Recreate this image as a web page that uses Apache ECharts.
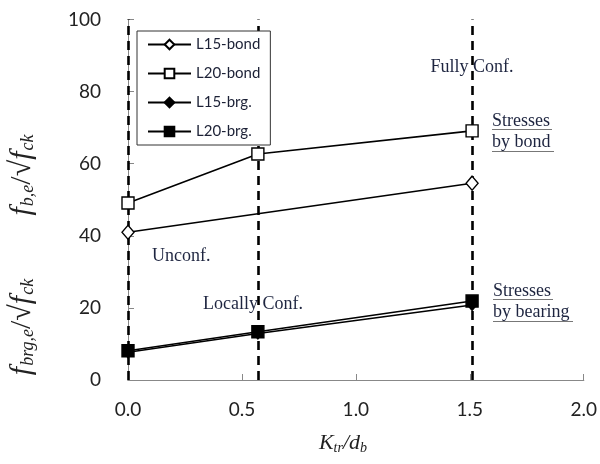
<!DOCTYPE html>
<html>
<head>
<meta charset="utf-8">
<script src="https://cdn.jsdelivr.net/npm/echarts@6/dist/echarts.min.js"></script>
<style>
  html, body { margin: 0; padding: 0; background: #fff; }
  #chart { width: 600px; height: 464px; }
</style>
</head>
<body>
<div id="chart"></div>
<script>
// Confinement levels (K_tr/d_b) where the specimens were tested
const confinement = [0, 0.57, 1.51];

// Normalised stresses by bond
const l15Bond = [[0, 41.0], [1.51, 54.6]];
const l20Bond = [[0, 49.1], [0.57, 62.7], [1.51, 69.1]];
// Normalised stresses by bearing
const l15Brg = [[0, 7.7], [0.57, 12.9], [1.51, 20.8]];
const l20Brg = [[0, 8.1], [0.57, 13.4], [1.51, 21.9]];

const xTicks = { min: 0, max: 2, interval: 0.5 };
const yTicks = { min: 0, max: 100, interval: 20 };

const sans = 'Lato, "Open Sans", sans-serif';
const serif = '"Liberation Serif", "DejaVu Serif", serif';
const ink = '#1c2136';

const chart = echarts.init(document.getElementById('chart'));

function lineSeries(name, data, symbol, size, filled) {
  return {
    name: name,
    type: 'line',
    data: data,
    symbol: symbol,
    symbolSize: size,
    showAllSymbol: true,
    z: 5,
    lineStyle: { color: '#000', width: 1.6 },
    itemStyle: {
      color: filled ? '#000' : '#fff',
      borderColor: '#000',
      borderWidth: 1.4
    },
    emphasis: { disabled: true }
  };
}

const series = [
  lineSeries('L15-bond', l15Bond, 'diamond', [12, 14], false),
  lineSeries('L20-bond', l20Bond, 'rect', 12, false),
  lineSeries('L15-brg.', l15Brg, 'diamond', [9, 11], true),
  lineSeries('L20-brg.', l20Brg, 'rect', 12, true),
  // Dashed guides at each confinement level, kept beneath the data and the legend
  {
    name: 'guides',
    type: 'line',
    data: [],
    z: 1,
    markLine: {
      z: 1,
      silent: true,
      symbol: 'none',
      label: { show: false },
      lineStyle: { color: '#000', width: 2.6, type: [9, 6] },
      data: confinement.map(v => ({ xAxis: v }))
    }
  }
];

const annoText = { fontFamily: serif, fontSize: 18, fill: '#1e2540' };
const titleRich = {
  f: { fontFamily: serif, fontStyle: 'italic', fontSize: 30 },
  n: { fontFamily: serif, fontSize: 30 },
  s: { fontFamily: serif, fontStyle: 'italic', fontSize: 18, padding: [13, 0, 0, 1] }
};

chart.setOption({
  animation: false,
  grid: { left: 128, right: 16, top: 19.5, bottom: 84, containLabel: false },
  legend: {
    orient: 'vertical',
    left: 137,
    top: 31,
    z: 20,
    padding: [6, 10, 6, 10],
    itemWidth: 43,
    itemHeight: 12,
    itemGap: 14,
    borderColor: '#333',
    borderWidth: 1,
    backgroundColor: '#fff',
    textStyle: { fontFamily: sans, fontSize: 15, color: ink },
    data: ['L15-bond', 'L20-bond', 'L15-brg.', 'L20-brg.'],
    selectedMode: false
  },
  xAxis: [{
    type: 'value',
    min: xTicks.min, max: xTicks.max, interval: xTicks.interval,
    axisLine: { show: true, lineStyle: { color: '#888', width: 1 } },
    axisTick: { show: true, inside: true, length: 6, lineStyle: { color: '#888' } },
    axisLabel: {
      fontFamily: sans, fontSize: 19, color: '#222', margin: 20,
      formatter: v => v.toFixed(1)
    },
    splitLine: { show: false }
  }, {
    type: 'value', position: 'top',
    min: xTicks.min, max: xTicks.max,
    axisLine: { show: true, lineStyle: { color: '#888', width: 1 } },
    axisTick: { show: false }, axisLabel: { show: false }, splitLine: { show: false }
  }],
  yAxis: [{
    type: 'value',
    min: yTicks.min, max: yTicks.max, interval: yTicks.interval,
    axisLine: { show: false },
    axisTick: { show: true, inside: true, length: 6, lineStyle: { color: '#888' } },
    axisLabel: { fontFamily: sans, fontSize: 19, color: '#222', margin: 27 },
    splitLine: { show: false }
  }, {
    type: 'value', position: 'right',
    min: yTicks.min, max: yTicks.max,
    axisLine: { show: true, lineStyle: { color: '#888', width: 1 } },
    axisTick: { show: false }, axisLabel: { show: false }, splitLine: { show: false }
  }],
  series: series,
  graphic: [
    // y-axis titles
    {
      type: 'text', x: 22, y: 175, rotation: Math.PI / 2,
      style: {
        text: '{f|f}{s|b,e}{n|/√}{f|f}{s|ck}',
        align: 'center', verticalAlign: 'middle', fill: '#222', rich: titleRich
      }
    },
    {
      type: 'text', x: 22, y: 327, rotation: Math.PI / 2,
      style: {
        text: '{f|f}{s|brg,e}{n|/√}{f|f}{s|ck}',
        align: 'center', verticalAlign: 'middle', fill: '#222', rich: titleRich
      }
    },
    // x-axis title
    {
      type: 'text', x: 343, y: 443,
      style: {
        text: '{k|K}{s|tr}{k|/d}{s|b}',
        align: 'center', verticalAlign: 'middle', fill: '#222',
        rich: {
          k: { fontFamily: serif, fontStyle: 'italic', fontSize: 22 },
          s: { fontFamily: serif, fontStyle: 'italic', fontSize: 14, padding: [10, 0, 0, 0] }
        }
      }
    },
    // region notes
    { type: 'text', x: 472, y: 67, style: Object.assign({ text: 'Fully Conf.', align: 'center', verticalAlign: 'middle' }, annoText) },
    { type: 'text', x: 152, y: 256, style: Object.assign({ text: 'Unconf.', align: 'left', verticalAlign: 'middle' }, annoText) },
    { type: 'text', x: 203, y: 304, style: Object.assign({ text: 'Locally Conf.', align: 'left', verticalAlign: 'middle' }, annoText) },
    { type: 'text', x: 492, y: 121, style: Object.assign({ text: 'Stresses', align: 'left', verticalAlign: 'middle' }, annoText) },
    { type: 'text', x: 492, y: 142, style: Object.assign({ text: 'by bond', align: 'left', verticalAlign: 'middle' }, annoText) },
    { type: 'text', x: 493, y: 291, style: Object.assign({ text: 'Stresses', align: 'left', verticalAlign: 'middle' }, annoText) },
    { type: 'text', x: 493, y: 312, style: Object.assign({ text: 'by bearing', align: 'left', verticalAlign: 'middle' }, annoText) },
    // underlines beneath the notes
    { type: 'line', shape: { x1: 492, y1: 129.5, x2: 552, y2: 129.5 }, style: { stroke: '#777', lineWidth: 1 } },
    { type: 'line', shape: { x1: 492, y1: 151.5, x2: 554, y2: 151.5 }, style: { stroke: '#777', lineWidth: 1 } },
    { type: 'line', shape: { x1: 493, y1: 299.5, x2: 553, y2: 299.5 }, style: { stroke: '#777', lineWidth: 1 } },
    { type: 'line', shape: { x1: 493, y1: 321.5, x2: 573, y2: 321.5 }, style: { stroke: '#777', lineWidth: 1 } }
  ]
});
</script>
</body>
</html>
